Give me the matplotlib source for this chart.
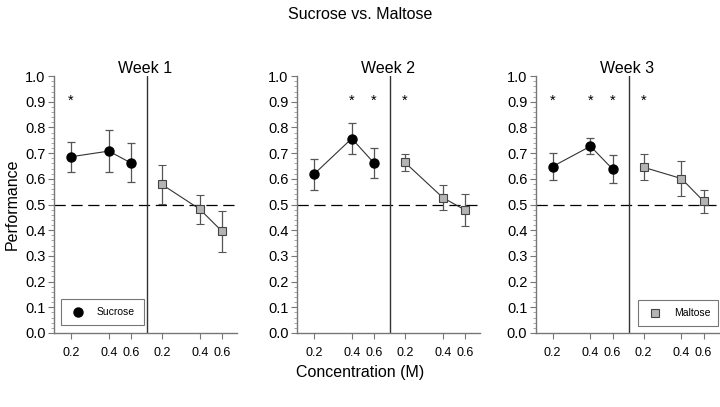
import numpy as np
import matplotlib
matplotlib.use("Agg")
import matplotlib.pyplot as plt
from matplotlib.ticker import MultipleLocator, FormatStrFormatter

plt.rcParams["font.family"] = ["Liberation Sans", "DejaVu Sans"]

# Data
weeks = ["Week 1", "Week 2", "Week 3"]
conc = [0.2, 0.4, 0.6]
conc_labels = ["0.2", "0.4", "0.6"]

sucrose_mean = [[0.686, 0.708, 0.662],
                [0.618, 0.757, 0.662],
                [0.648, 0.727, 0.638]]
sucrose_err = [[0.058, 0.082, 0.076],
               [0.061, 0.061, 0.058],
               [0.051, 0.032, 0.054]]
maltose_mean = [[0.578, 0.482, 0.396],
                [0.664, 0.527, 0.479],
                [0.645, 0.601, 0.513]]
maltose_err = [[0.075, 0.057, 0.079],
               [0.032, 0.049, 0.063],
               [0.050, 0.068, 0.045]]

# significance stars (True = star) per week
sucrose_sig = [[True, False, False],
               [False, True, True],
               [True, True, True]]
maltose_sig = [[False, False, False],
               [True, False, False],
               [True, False, False]]

# x positions on a log scale, maltose shifted to the right half
shift = 1.667
x_suc = np.log(conc)
x_mal = np.log(conc) + shift

fig = plt.figure(figsize=(7.2, 4.07), dpi=100)
lefts = [0.075, 0.4125, 0.744]
axes = [fig.add_axes([l, 0.182, 0.254, 0.631]) for l in lefts]

suc_handle = plt.Line2D([], [], marker="o", ls="none", markersize=6.5,
                        markerfacecolor="black", markeredgecolor="black")
mal_handle = plt.Line2D([], [], marker="s", ls="none", markersize=5.5,
                        markerfacecolor="#b4b4b4", markeredgecolor="#444444",
                        markeredgewidth=0.8)

for i, ax in enumerate(axes):
    ax.axhline(0.5, color="black", lw=0.9, dashes=(9, 4.5), zorder=1)
    ax.axvline(-0.218, color="#333333", lw=1.0, zorder=1)

    ax.errorbar(x_suc, sucrose_mean[i], yerr=sucrose_err[i],
                fmt="-o", color="#333333", ecolor="#555555", elinewidth=0.9,
                capsize=2.6, capthick=0.9, lw=0.8, markersize=6.5,
                markerfacecolor="black", markeredgecolor="black", zorder=3)
    ax.errorbar(x_mal, maltose_mean[i], yerr=maltose_err[i],
                fmt="-s", color="#333333", ecolor="#555555", elinewidth=0.9,
                capsize=2.6, capthick=0.9, lw=0.8, markersize=5.5,
                markerfacecolor="#b4b4b4", markeredgecolor="#444444",
                markeredgewidth=0.8, zorder=3)

    for j in range(3):
        if sucrose_sig[i][j]:
            ax.text(x_suc[j], 0.905, "*", ha="center", va="center", fontsize=10.5)
        if maltose_sig[i][j]:
            ax.text(x_mal[j], 0.905, "*", ha="center", va="center", fontsize=10.5)

    ax.set_xlim(-1.92, 1.431)
    ax.set_ylim(0, 1.0)
    ax.set_xticks(list(x_suc) + list(x_mal))
    ax.set_xticklabels(conc_labels + conc_labels, fontsize=9)
    ax.yaxis.set_major_locator(MultipleLocator(0.1))
    ax.yaxis.set_minor_locator(MultipleLocator(0.02))
    ax.yaxis.set_major_formatter(FormatStrFormatter("%.1f"))
    ax.tick_params(axis="y", labelsize=10.5, direction="out", length=4, color="#777777", pad=2)
    ax.tick_params(axis="y", which="minor", direction="out", length=2, color="#999999")
    ax.tick_params(axis="x", direction="out", length=4, color="#777777", pad=6)
    for s in ["top", "right"]:
        ax.spines[s].set_visible(False)
    for s in ["left", "bottom"]:
        ax.spines[s].set_color("#777777")
        ax.spines[s].set_linewidth(1.0)
    ax.set_title(weeks[i], fontsize=11.5, pad=2)

    if i == 0:
        ax.set_ylabel("Performance", fontsize=11.5, labelpad=4)
        leg = ax.legend(handles=[suc_handle], labels=["Sucrose"], loc="lower left",
                        bbox_to_anchor=(0.038, 0.031, 0.454, 0.101), mode="expand",
                        fontsize=7.5, fancybox=False, edgecolor="#555555",
                        handlelength=1.8, borderpad=0.75, handletextpad=0.9,
                        borderaxespad=0)
        leg.get_frame().set_linewidth(0.8)
    if i == 2:
        leg = ax.legend(handles=[mal_handle], labels=["Maltose"], loc="lower left",
                        bbox_to_anchor=(0.56, 0.027, 0.435, 0.105), mode="expand",
                        fontsize=7.5, fancybox=False, edgecolor="#555555",
                        handlelength=1.8, borderpad=0.75, handletextpad=0.9,
                        borderaxespad=0)
        leg.get_frame().set_linewidth(0.8)

fig.text(0.5, 0.965, "Sucrose vs. Maltose", ha="center", va="center", fontsize=11.5)
fig.text(0.5, 0.085, "Concentration (M)", ha="center", va="center", fontsize=11.5)

fig.savefig("out.png", dpi=100)
